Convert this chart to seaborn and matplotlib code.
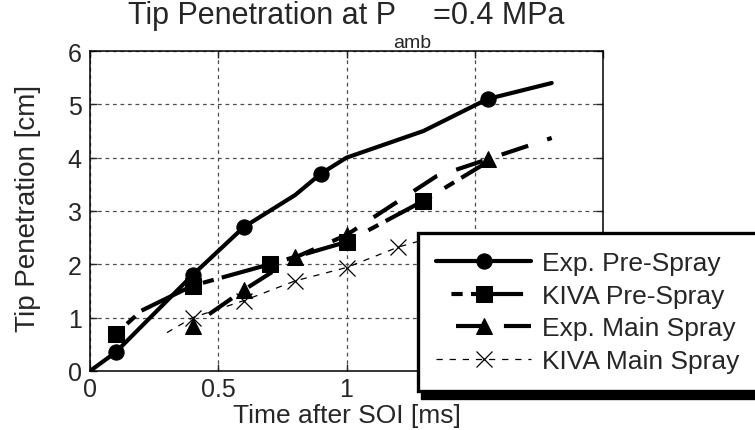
import matplotlib
matplotlib.use("Agg")
import matplotlib.pyplot as plt
import seaborn as sns
import pandas as pd

# ---- data ----
time_exp_pre = [0.0, 0.1, 0.4, 0.6, 0.8, 0.9, 1.0, 1.3, 1.55, 1.8]
pen_exp_pre = [0.0, 0.35, 1.8, 2.7, 3.3, 3.7, 4.0, 4.5, 5.1, 5.4]
mark_exp_pre = [1, 2, 3, 5, 8]

time_kiva_pre = [0.1, 0.2, 0.4, 0.7, 1.0, 1.3, 1.55]
pen_kiva_pre = [0.69, 1.13, 1.6, 2.0, 2.42, 3.19, 3.92]
mark_kiva_pre = [0, 2, 3, 4, 5]

time_exp_main = [0.4, 0.6, 0.8, 1.0, 1.35, 1.55, 1.8]
pen_exp_main = [0.85, 1.52, 2.13, 2.55, 3.65, 3.97, 4.37]
mark_exp_main = [0, 1, 2, 3, 5]

time_kiva_main = [0.3, 0.4, 0.6, 0.8, 1.0, 1.2, 1.4]
pen_kiva_main = [0.72, 1.0, 1.32, 1.69, 1.94, 2.32, 2.6]
mark_kiva_main = [1, 2, 3, 4, 5]

series_names = ["Exp. Pre-Spray", "KIVA Pre-Spray", "Exp. Main Spray", "KIVA Main Spray"]
x_ticks = [0, 0.5, 1, 1.5, 2]
x_tick_labels = ["0", "0.5", "1", "1.5", "2"]
y_ticks = [0, 1, 2, 3, 4, 5, 6]

sns.set_style("ticks")
plt.rcParams["font.family"] = ["Liberation Sans", "DejaVu Sans"]

fig = plt.figure(figsize=(7.55, 4.31), dpi=100)
ax = fig.add_axes([90 / 755, 59 / 431, 513 / 755, 320 / 431])

def df(t, p):
    return pd.DataFrame({"t": t, "p": p})

common = dict(ax=ax, x="t", y="p", sort=False, estimator=None, color="black",
              markeredgecolor="black", markerfacecolor="black", legend=False)

sns.lineplot(data=df(time_exp_pre, pen_exp_pre), lw=3, marker="o", markersize=11,
             markevery=mark_exp_pre, label=series_names[0], **common)
sns.lineplot(data=df(time_kiva_pre, pen_kiva_pre), lw=3, marker="s", markersize=11,
             markevery=mark_kiva_pre, linestyle=(12.5, (12.5, 3.7, 2.7, 2.0)),
             label=series_names[1], **common)
sns.lineplot(data=df(time_exp_main, pen_exp_main), lw=3, marker="^", markersize=12,
             markevery=mark_exp_main, linestyle=(6.7, (6.7, 4.8)),
             label=series_names[2], **common)
sns.lineplot(data=df(time_kiva_main, pen_kiva_main), lw=0.9, marker="x", markersize=12,
             markeredgewidth=0.9, markevery=mark_kiva_main, linestyle=(0, (5, 5.5)),
             label=series_names[3], **common)

ax.set_xlim(0, 2)
ax.set_ylim(0, 6)
ax.set_xticks(x_ticks)
ax.set_xticklabels(x_tick_labels)
ax.set_yticks(y_ticks)
ax.grid(True, color="0.3", linestyle=(0, (3, 3)), linewidth=0.9)
ax.tick_params(direction="in", top=True, right=True, length=5, width=1,
               labelsize=18)
ax.tick_params(axis="x", pad=4)
ax.tick_params(axis="y", pad=6)
for s in ax.spines.values():
    s.set_color("black")
    s.set_linewidth(1.1)
ax.set_xlabel("Time after SOI [ms]", fontsize=19)
ax.set_ylabel("Tip Penetration [cm]", fontsize=20)
ax.xaxis.set_label_coords(0.5, (372 - 404) / 320)
ax.yaxis.set_label_coords((41 - 90) / 513, 0.51)

# title with low subscript
t1 = fig.text(128 / 755, 1 - 24 / 431, "Tip Penetration at P", fontsize=22,
              ha="left", va="baseline")
t2 = ax.annotate("amb", xy=(1, 0), xycoords=t1, xytext=(-2, -12),
                 textcoords="offset points", fontsize=14, ha="left", va="baseline",
                 annotation_clip=False)
t3 = ax.annotate("=0.4 MPa", xy=(1, 0), xycoords=(t2, t1), xytext=(1, 0),
                 textcoords="offset points", fontsize=22, ha="left", va="bottom",
                 annotation_clip=False)

leg = ax.legend(handles=ax.lines[:4], labels=series_names, loc="upper left",
                bbox_to_anchor=(418 / 755, 1 - 234 / 431),
                bbox_transform=fig.transFigure, borderaxespad=0, fontsize=19,
                handlelength=3.6, handletextpad=0.4, borderpad=0.7,
                labelspacing=0.32, fancybox=False, framealpha=1,
                shadow={"ox": 3, "oy": -4.5, "color": "black", "alpha": 1})
leg.get_frame().set_edgecolor("black")
leg.get_frame().set_linewidth(2.4)

fig.savefig("out.png", dpi=100)
